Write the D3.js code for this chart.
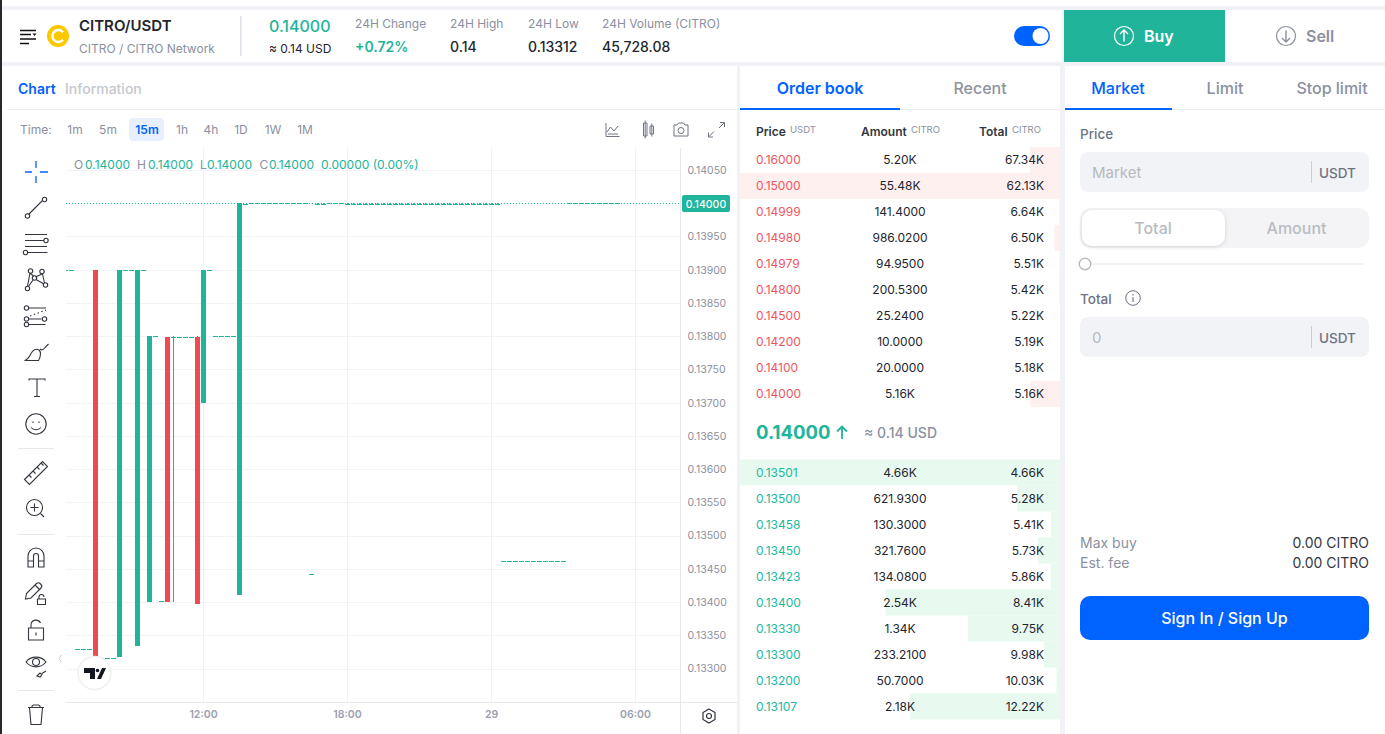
<!DOCTYPE html>
<html>
<head>
<meta charset="utf-8">
<script src="https://cdn.jsdelivr.net/npm/d3@7"></script>
<style>
  html, body { margin: 0; padding: 0; background: #f1f2f6; overflow: hidden; }
  svg { display: block; font-family: Inter, "Noto Sans", sans-serif; }
</style>
</head>
<body>
<svg id="id_svg" width="1385" height="734"></svg>
<script>
// candles, offset is the number of 15m bars from the 12:00 bar
const candleOffsets = [-23,-22,-21,-20,-19,-18,-17,-16,-15,-14,-13,-12,-11,-10,-9,-8,-7,-6,-5,-4,-3,-2,-1,0,1,2,3,4,5,6,7,
  8,9,10,11,12,13,14,15,16,17,18,19,20,21,22,23,
  24,25,26,27,28,29,30,31,32,33,34,35,36,37,38,39,40,41,42,43,44,45,46,47,48,49,
  50,51,52,53,54,55,56,57,58,59,60,
  61,62,63,64,65,66,67,68,69];
const candleOpens = [.139,.139,.1333,.1333,.1333,.139,.13316,.13316,.13316,.13318,.139,.139,.13335,.139,.134,.138,.13401,.13799,.13799,.13799,.13799,.13799,.13799,.137,.139,.138,.138,.138,.138,.1341,.13999,
  .14,.14,.14,.14,.14,.14,.14,.14,.14,.14,.13442,.13999,.13999,.14,.14,.14,
  .13999,.13999,.13999,.13999,.13999,.13999,.13999,.13999,.13999,.13999,.13999,.13999,.13999,.13999,.13999,.13999,.13999,.13999,.13999,.13999,.13999,.13999,.13999,.13999,.13999,.13999,
  .13461,.13461,.13461,.13461,.13461,.13461,.13461,.13461,.13461,.13461,.13461,
  .14,.14,.14,.14,.14,.14,.14,.14,.14];
const candleHighs = [.139,.139,.1333,.1333,.1333,.139,.13316,.13316,.13316,.139,.139,.139,.139,.139,.138,.138,.13401,.13799,.138,.13799,.13799,.13799,.138,.139,.139,.138,.138,.138,.138,.14,.13999,
  .14,.14,.14,.14,.14,.14,.14,.14,.14,.14,.13442,.14,.14,.14,.14,.14,
  .14,.14,.14,.14,.14,.14,.14,.14,.14,.14,.14,.14,.14,.14,.14,.14,.14,.14,.14,.14,.14,.14,.14,.14,.14,.14,
  .13461,.13461,.13461,.13461,.13461,.13461,.13461,.13461,.13461,.13461,.13461,
  .14,.14,.14,.14,.14,.14,.14,.14,.14];
const candleLows = [.139,.139,.1333,.1333,.1333,.13318,.13316,.13316,.13316,.13318,.139,.139,.13335,.139,.134,.138,.13401,.134,.134,.13799,.13799,.13799,.13398,.137,.139,.138,.138,.138,.138,.1341,.13999,
  .14,.14,.14,.14,.14,.14,.14,.14,.14,.14,.13442,.13999,.13999,.14,.14,.14,
  .13999,.13999,.13999,.13999,.13999,.13999,.13999,.13999,.13999,.13999,.13999,.13999,.13999,.13999,.13999,.13999,.13999,.13999,.13999,.13999,.13999,.13999,.13999,.13999,.13999,.13999,
  .13461,.13461,.13461,.13461,.13461,.13461,.13461,.13461,.13461,.13461,.13461,
  .14,.14,.14,.14,.14,.14,.14,.14,.14];
const candleCloses = [.139,.139,.1333,.1333,.1333,.13318,.13316,.13316,.13316,.139,.139,.139,.139,.139,.138,.138,.13401,.134,.13799,.13799,.13799,.13799,.13398,.139,.139,.138,.138,.138,.138,.14,.13999,
  .14,.14,.14,.14,.14,.14,.14,.14,.14,.14,.13442,.13999,.13999,.14,.14,.14,
  .13999,.13999,.13999,.13999,.13999,.13999,.13999,.13999,.13999,.13999,.13999,.13999,.13999,.13999,.13999,.13999,.13999,.13999,.13999,.13999,.13999,.13999,.13999,.13999,.13999,.13999,
  .13461,.13461,.13461,.13461,.13461,.13461,.13461,.13461,.13461,.13461,.13461,
  .14,.14,.14,.14,.14,.14,.14,.14,.14];
const lastPrice = 0.14;

const priceTicks = [.1405,.14,.1395,.139,.1385,.138,.1375,.137,.1365,.136,.1355,.135,.1345,.134,.1335,.133];
const timeTickOffsets = [0, 24, 48, 72];
const timeTickLabels = ["12:00", "18:00", "29", "06:00"];

// order book
const askPrices = [.16,.15,.14999,.1498,.14979,.148,.145,.142,.141,.14];
const askAmounts = [5200,55480,141.4,986.02,94.95,200.53,25.24,10,20,5160];
const askTotals = [67340,62130,6640,6500,5510,5420,5220,5190,5180,5160];
const bidPrices = [.13501,.135,.13458,.1345,.13423,.134,.1333,.133,.132,.13107];
const bidAmounts = [4660,621.93,130.3,321.76,134.08,2540,1340,233.21,50.7,2180];
const bidTotals = [4660,5280,5410,5730,5860,8410,9750,9980,10030,12220];

const intervals = ["1m","5m","15m","1h","4h","1D","1W","1M"];
const intervalX = [75,108,147,182,211,241,273,305];

const teal = "#20b49a", red = "#ef4a4f", blue = "#0062ff", ink = "#23252e", grey = "#8b90a0", line = "#f2f3f7";

const svg = d3.select("#id_svg");

function txt(parent, s, x, y, size, fill, weight, anchor) {
  return parent.append("text").attr("x", x).attr("y", y).attr("font-size", size)
    .attr("fill", fill).attr("font-weight", weight || 400).attr("text-anchor", anchor || "start").text(s);
}
function box(parent, x, y, w, h, fill, r) {
  return parent.append("rect").attr("x", x).attr("y", y).attr("width", w).attr("height", h).attr("fill", fill).attr("rx", r || 0);
}

// panels
box(svg, 0, 0, 1385, 6, "#fff");
box(svg, 2, 10, 1060, 52, "#fff");
box(svg, 1064, 10, 321, 52, "#fff");
box(svg, 2, 66, 735, 668, "#fff");
box(svg, 740, 66, 320, 668, "#fff");
box(svg, 1065, 66, 320, 668, "#fff");
box(svg, 0, 0, 2, 734, "#26282c");

// header
const head = svg.append("g");
head.append("path").attr("d", "M20 30.500h16M20 34.500h11M20 39h16M20 43.500h9").attr("stroke", "#111").attr("stroke-width", 1.5).attr("fill", "none");
head.append("path").attr("d", "M32.500 33.500h4l-2 2.600z").attr("fill", "#111");
head.append("circle").attr("cx", 58).attr("cy", 36).attr("r", 11).attr("fill", "#fcc800");
head.append("path").attr("d", "M63 32.200a6 6 0 1 0 0 7.600").attr("stroke", "#fff").attr("stroke-width", 2.4).attr("fill", "none");
head.append("circle").attr("cx", 55).attr("cy", 31).attr("r", 1.5).attr("fill", "#fff");
txt(head, "CITRO/USDT", 79, 31, 15, ink, 600);
txt(head, "CITRO / CITRO Network", 79, 53, 12, grey);
box(head, 240, 16, 1.5, 40, "#dfe1e8");
txt(head, "0.14000", 269, 32, 16, teal, 500);
txt(head, "≈ 0.14 USD", 269, 53, 12, ink);
[["24H Change", 355], ["24H High", 450], ["24H Low", 528], ["24H Volume (CITRO)", 602]].forEach(d => txt(head, d[0], d[1], 28, 12, grey));
txt(head, "+0.72%", 355, 52, 14, teal, 600);
txt(head, "0.14", 450, 52, 14, ink, 500);
txt(head, "0.13312", 528, 52, 14, ink, 500);
txt(head, "45,728.08", 602, 52, 14, ink, 500);
box(head, 1014, 26, 36, 20, blue, 10);
head.append("circle").attr("cx", 1040.5).attr("cy", 36).attr("r", 8).attr("fill", "#fff");

// buy / sell
box(svg, 1064, 10, 161, 52, teal);
svg.append("circle").attr("cx", 1124).attr("cy", 36).attr("r", 9.5).attr("fill", "none").attr("stroke", "#fff").attr("stroke-width", 1.2);
svg.append("path").attr("d", "M1124 41.500v-11M1120 34l4-4 4 4").attr("fill", "none").attr("stroke", "#fff").attr("stroke-width", 1.4);
txt(svg, "Buy", 1144, 42, 16, "#fff", 600);
svg.append("circle").attr("cx", 1286).attr("cy", 36).attr("r", 9.5).attr("fill", "none").attr("stroke", grey).attr("stroke-width", 1.2);
svg.append("path").attr("d", "M1286 30.500v11M1282 38l4 4 4-4").attr("fill", "none").attr("stroke", grey).attr("stroke-width", 1.4);
txt(svg, "Sell", 1306, 42, 16, grey, 600);

// chart tabs and time row
txt(svg, "Chart", 18, 94, 14, blue, 600);
txt(svg, "Information", 65, 94, 14, "#c5c7cd", 500);
box(svg, 7, 109, 730, 1, "#eceef2");
txt(svg, "Time:", 20, 134, 12, grey);
box(svg, 129, 118, 35, 23, "#e8f0ff", 4);
intervals.forEach((d, i) => txt(svg, d, intervalX[i], 134, 12, d === "15m" ? blue : grey, d === "15m" ? 600 : 400, "middle"));

const chartIcons = svg.append("g").attr("fill", "none").attr("stroke", "#6f7484").attr("stroke-width", 1);
chartIcons.append("path").attr("d", "M606 123v13.500h13.500M607 132l3.500-5 3.500 4 4-5M608 134h10");
chartIcons.append("path").attr("d", "M643.500 123h3.500v13h-3.500zM650 126h3.500v8h-3.500zM645.200 120.500v18M651.800 123.500v13");
chartIcons.append("path").attr("d", "M674 125h3l1.500-2h5l1.500 2h3v11h-14z");
chartIcons.append("circle").attr("cx", 681).attr("cy", 130.5).attr("r", 3);
chartIcons.append("path").attr("d", "M719 128l5-5M720 122.500h4.500v4.500M714 131.500l-5 5M708.500 132.500v4.500h4.500");

// main chart
const gridLeft = 66, gridRight = 680.5, plotTop = 148, plotBottom = 702.5;
const y = d3.scaleLinear().domain([.1405, .133]).range([170, 668.5]);
const x = d3.scaleLinear().domain([0, 24]).range([203.5, 347.5]);

svg.append("clipPath").attr("id", "plot").append("rect")
  .attr("x", gridLeft).attr("y", plotTop).attr("width", gridRight - gridLeft).attr("height", plotBottom - plotTop);

const yAxis = d3.axisRight(y).tickValues(priceTicks).tickFormat(d3.format(".5f")).tickSize(0).tickPadding(7);
const xAxis = d3.axisBottom(x).tickValues(timeTickOffsets).tickFormat((d, i) => timeTickLabels[i]).tickSize(0).tickPadding(8);

svg.append("g").selectAll("line").data(priceTicks).join("line")
  .attr("x1", gridLeft).attr("x2", gridRight).attr("y1", d => Math.round(y(d)) + .5).attr("y2", d => Math.round(y(d)) + .5)
  .attr("stroke", line);
svg.append("g").selectAll("line").data(timeTickOffsets).join("line")
  .attr("x1", d => x(d)).attr("x2", d => x(d)).attr("y1", plotTop).attr("y2", plotBottom)
  .attr("stroke", line);

const yg = svg.append("g").attr("transform", `translate(${gridRight},0)`).call(yAxis);
yg.select(".domain").remove();
yg.selectAll("text").attr("font-family", "Inter").attr("font-size", 10.5).attr("fill", grey);
const xg = svg.append("g").attr("transform", `translate(-0.500,${plotBottom})`).call(xAxis);
xg.select(".domain").remove();
xg.selectAll("text").attr("font-family", "Inter").attr("font-size", 10.5).attr("font-weight", 600).attr("fill", "#9ca0ae");

box(svg, 680, plotTop, 1, 586, "#e6e8ee");
box(svg, gridLeft, 702, 672, 1, "#e6e8ee");

// last price line under the candles
svg.append("line").attr("x1", gridLeft).attr("x2", gridRight)
  .attr("y1", Math.floor(y(lastPrice)) + .5).attr("y2", Math.floor(y(lastPrice)) + .5)
  .attr("stroke", teal).attr("stroke-dasharray", "1 2");

const candles = candleOffsets.map((d, i) => ({ t: d, o: candleOpens[i], h: candleHighs[i], l: candleLows[i], c: candleCloses[i] }));
const candleG = svg.append("g").attr("clip-path", "url(#plot)").attr("shape-rendering", "crispEdges");
candleG.selectAll("line").data(candles).join("line")
  .attr("x1", d => Math.floor(x(d.t)) + .5).attr("x2", d => Math.floor(x(d.t)) + .5)
  .attr("y1", d => y(d.h)).attr("y2", d => y(d.l))
  .attr("stroke", d => d.c < d.o ? red : teal);
candleG.selectAll("rect").data(candles).join("rect")
  .attr("x", d => x(d.t) - 2.5).attr("width", 5)
  .attr("y", d => Math.round(y(Math.max(d.o, d.c))))
  .attr("height", d => Math.max(1, Math.abs(y(d.o) - y(d.c))))
  .attr("fill", d => d.c < d.o ? red : teal);

// legend
const legendParts = [["O", 74, grey], ["0.14000", 85, teal], ["H", 137, grey], ["0.14000", 148, teal], ["L", 200, grey], ["0.14000", 207, teal],
  ["C", 259.5, grey], ["0.14000", 269, teal], ["0.00000 (0.00%)", 321, teal]];
legendParts.forEach(d => txt(svg, d[0], d[1], 169, 12, d[2]));

// last price tag
box(svg, 682, 195, 48, 17, teal, 2);
txt(svg, "0.14000", 706, 207.5, 10.5, "#fff", 500, "middle");

// settings gear
const gear = svg.append("g").attr("transform", "translate(709,716)").attr("fill", "none").attr("stroke", "#33363f").attr("stroke-width", 1.2);
gear.append("path").attr("d", "M0 -7L6 -3.500V3.500L0 7L-6 3.500V-3.500Z");
gear.append("circle").attr("r", 2.5);

// tradingview badge
svg.append("circle").attr("cx", 94.5).attr("cy", 673).attr("r", 16.5).attr("fill", "#fff").attr("stroke", "#efefef").attr("stroke-width", 1.5);
svg.append("path").attr("d", "M84 668h11v11h-5v-6h-6zM97 679l5-11h4l-5 11z").attr("fill", "#131722");
svg.append("circle").attr("cx", 97.5).attr("cy", 670.5).attr("r", 1.8).attr("fill", "#131722");
svg.append("path").attr("d", "M61.500 655l-2.500 3.500 2.500 3.500").attr("fill", "none").attr("stroke", "#c8cad0");

// drawing toolbar
[448, 534, 690].forEach(v => box(svg, 18, v, 36, 1, "#e6e8ee"));
svg.append("path").attr("d", "M36 161v7M36 176v7M25 172h7M40 172h8").attr("stroke", blue).attr("stroke-width", 1.3);
const tools = svg.append("g").attr("fill", "none").attr("stroke", "#33363f").attr("stroke-width", 1.1);
const ring = (cx, cy) => tools.append("circle").attr("cx", cx).attr("cy", cy).attr("r", 2.2);
tools.append("path").attr("d", "M28.500 214.500L42.500 200.500");
ring(27.5, 216); ring(44.5, 199.5);
tools.append("path").attr("d", "M25 234.500h22M25 240.500h19M25 246.500h22M27.500 252.500h20");
ring(46, 240.5); ring(25.5, 252.5);
tools.append("path").attr("d", "M30 273L27.500 286M42 274L35.500 277M30.500 273.500L33.500 276M36 279.500L44 284M33 280L28.500 286.500M42.500 274L44.500 283");
ring(30.5, 271); ring(42, 271.5); ring(34.5, 278); ring(27.5, 288.5); ring(45.5, 285);
tools.append("path").attr("d", "M29 308h17M28.500 319h13M28.500 324.500h17");
tools.append("path").attr("d", "M30 316L46 310").attr("stroke-dasharray", "1.500 2.500");
ring(26.5, 308); ring(26.5, 319); ring(44.5, 319); ring(26.5, 324.5);
tools.append("path").attr("d", "M24.500 360.500c4-1 5-4 6.500-7 2-3.500 5-5.500 8-3.500 2.500 2 1.500 7-.500 10.500zM40 349c2 2 4 0 5-1.500l3.500-3.500");
tools.append("path").attr("d", "M29 380.500v-1.500h16v1.500M37 379v17.500M34 396.500h6");
tools.append("circle").attr("cx", 36).attr("cy", 424).attr("r", 10.2);
tools.append("path").attr("d", "M31 427.500c2.500 3 7.500 3 10 0M33 421.500v1.500M39 421.500v1.500");
tools.append("path").attr("d", "M24.500 479.500L42.500 461.500L47.500 466.500L29.500 484.500ZM29 475l2.500 2.500M33 471l2.500 2.500M37 467l2.500 2.500M41 463l2.500 2.500");
tools.append("circle").attr("cx", 34.5).attr("cy", 507.5).attr("r", 8);
tools.append("path").attr("d", "M34.500 503.500v8M30.500 507.500h8M40.500 513.500l3.500 3.500");
tools.append("path").attr("d", "M28 567v-11a8 8 0 0 1 16 0v11h-5.500v-11a2.500 2.500 0 0 0-5 0v11zM28 561h5.500M38.500 561h5.500");
tools.append("path").attr("d", "M25.500 599l1-5.500 10-10c1-1 2.500-1 3.500 0l1 1c1 1 1 2.500 0 3.500l-10 10zM35 585l5 5");
tools.append("path").attr("d", "M37.500 604.500v-5.500h8v5.500zM39 599v-2a2.500 2.500 0 0 1 5 0");
tools.append("path").attr("d", "M28.500 640v-12h15v12zM31 628v-3.500a5 5 0 0 1 9.500-1.500M36 632.500v3");
tools.append("path").attr("d", "M26 662c5-6.500 15-6.500 20 0-5 6.500-15 6.500-20 0z");
tools.append("circle").attr("cx", 36).attr("cy", 662).attr("r", 3.5);
tools.append("path").attr("d", "M37 676l3-3 2 1.500-2 2.500zM42 673.500l4-2.500");
tools.append("path").attr("d", "M28 707.500h16M32 707.500v-1.500l1.500-1h5l1.500 1v1.500M29.500 707.500l1.500 17h10l1.500-17");

// order book
txt(svg, "Order book", 820, 94, 16, blue, 600, "middle");
txt(svg, "Recent", 980, 94, 16, "#8f93a1", 500, "middle");
box(svg, 740, 109, 320, 1, "#eceef2");
box(svg, 740, 108, 160, 2, blue);
[["Price", 756, 790, "USDT"], ["Amount", 861, 911, "CITRO"], ["Total", 979, 1012, "CITRO"]].forEach(d => {
  txt(svg, d[0], d[1], 136, 12, "#33363f", 600);
  txt(svg, d[3], d[2], 133, 9.5, grey);
});

const fmtAmount = v => v >= 1000 ? d3.format(".2f")(v / 1000) + "K" : d3.format(".4f")(v);
const fmtTotal = v => d3.format(".2f")(v / 1000) + "K";
const fmtPrice = d3.format(".5f");

function drawBook(prices, amounts, totals, top, textColor, barColor) {
  const rows = d3.scaleBand().domain(d3.range(prices.length)).range([top, top + 26 * prices.length]);
  const depth = d3.scaleLinear().domain([0, d3.max(amounts)]).range([0, 320]);
  const g = svg.append("g");
  g.selectAll("rect").data(amounts).join("rect")
    .attr("x", d => 1060 - depth(d)).attr("width", d => depth(d))
    .attr("y", (d, i) => rows(i)).attr("height", rows.bandwidth()).attr("fill", barColor);
  const row = g.selectAll("g").data(prices).join("g")
    .attr("transform", (d, i) => `translate(0,${rows(i) + 17})`).attr("font-size", 12);
  row.append("text").attr("x", 756).attr("fill", textColor).text(d => fmtPrice(d));
  row.append("text").attr("x", 900).attr("text-anchor", "middle").attr("fill", ink).text((d, i) => fmtAmount(amounts[i]));
  row.append("text").attr("x", 1044).attr("text-anchor", "end").attr("fill", ink).text((d, i) => fmtTotal(totals[i]));
}
drawBook(askPrices, askAmounts, askTotals, 147, "#f0565e", "#fff0f0");
drawBook(bidPrices, bidAmounts, bidTotals, 459.5, "#20b9a0", "#e8f9f0");

txt(svg, "0.14000", 756, 439, 18.5, teal, 700);
svg.append("path").attr("d", "M842 439v-12M837 431.500l5-5 5 5").attr("fill", "none").attr("stroke", teal).attr("stroke-width", 1.8);
txt(svg, "≈ 0.14 USD", 864, 438, 14, grey, 500);

// order form
txt(svg, "Market", 1118, 94, 16, blue, 500, "middle");
txt(svg, "Limit", 1225, 94, 16, grey, 500, "middle");
txt(svg, "Stop limit", 1332, 94, 16, grey, 500, "middle");
box(svg, 1065, 109, 320, 1, "#eceef2");
box(svg, 1065, 108, 107, 2, blue);

txt(svg, "Price", 1080, 139, 13.5, "#6d7284", 500);
function field(top, placeholder) {
  box(svg, 1080, top, 289, 40, "#f2f3f6", 8);
  box(svg, 1311, top + 9, 1, 22, "#c9ccd4");
  txt(svg, placeholder, 1092, top + 26, 15, "#b6b9c0");
  txt(svg, "USDT", 1319, top + 26, 13.5, "#6d7284", 500);
}
field(152, "Market");
field(317, "0");
box(svg, 1080, 208, 289, 40, "#f4f4f6", 10);
box(svg, 1082, 210, 143, 36, "#fff", 10).style("filter", "drop-shadow(0 1px 2px rgba(0,0,0,.12))");
txt(svg, "Total", 1153, 233.5, 16, "#b9bcc2", 500, "middle");
txt(svg, "Amount", 1296.5, 233.5, 16, "#b9bcc2", 500, "middle");
box(svg, 1085, 263, 279, 2, "#f1f2f4", 1);
svg.append("circle").attr("cx", 1085).attr("cy", 264).attr("r", 5.8).attr("fill", "#fff").attr("stroke", "#b8babf").attr("stroke-width", 1.4);
txt(svg, "Total", 1080, 304, 13.5, "#6d7284", 500);
svg.append("circle").attr("cx", 1133).attr("cy", 298).attr("r", 7.3).attr("fill", "none").attr("stroke", "#6d7284");
svg.append("path").attr("d", "M1133 297v5M1133 294v1.500").attr("stroke", "#6d7284").attr("stroke-width", 1.1);

txt(svg, "Max buy", 1080, 548, 14, grey);
txt(svg, "Est. fee", 1080, 568, 14, grey);
txt(svg, "0.00 CITRO", 1369, 548, 14, "#33363f", 400, "end");
txt(svg, "0.00 CITRO", 1369, 568, 14, "#33363f", 400, "end");
box(svg, 1080, 596, 289, 44, blue, 10);
txt(svg, "Sign In / Sign Up", 1224.5, 624, 16, "#fff", 500, "middle");
</script>
</body>
</html>
